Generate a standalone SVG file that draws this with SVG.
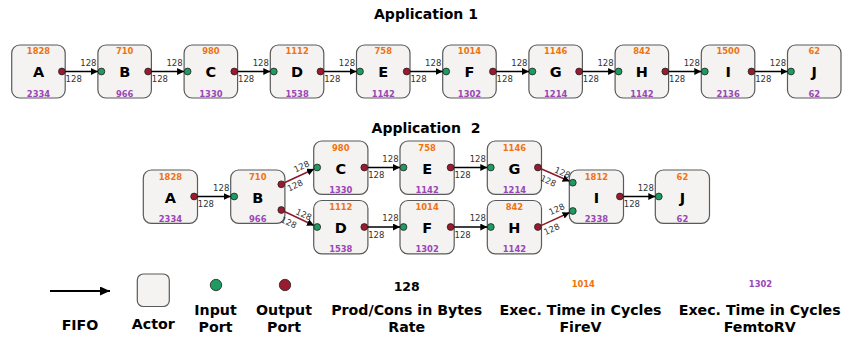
<svg xmlns="http://www.w3.org/2000/svg" width="843" height="339" viewBox="0 0 843 339">
<defs>
<marker id="ah" markerUnits="userSpaceOnUse" markerWidth="8" markerHeight="8" refX="7" refY="3.5" orient="auto"><path d="M0,0 L7,3.5 L0,7 z" fill="#000"/></marker>
<marker id="ahL" markerUnits="userSpaceOnUse" markerWidth="11" markerHeight="10" refX="10" refY="4.5" orient="auto"><path d="M0,0 L10,4.5 L0,9 z" fill="#000"/></marker>
</defs>
<style>
text{font-family:"DejaVu Sans","Liberation Sans",sans-serif}
.box{fill:#f4f3f1;stroke:#5a5a5a;stroke-width:1.2}
.in{fill:#1f9a60;stroke:#222;stroke-width:0.8}
.out{fill:#9b1b2e;stroke:#222;stroke-width:0.8}
.t{font-size:8.4px;font-weight:bold;fill:#f0720d;text-anchor:middle}
.b{font-size:8.4px;font-weight:bold;fill:#9a46b8;text-anchor:middle}
.n{font-size:14.5px;font-weight:bold;fill:#000;text-anchor:middle}
.r{font-size:8.5px;fill:#333}
.re{font-size:8.5px;fill:#333;text-anchor:end}
.rm{font-size:8.5px;fill:#333;text-anchor:middle}
.e{stroke:#000;stroke-width:1.5;fill:none;marker-end:url(#ah)}
.ed{stroke:#8b1a2a;stroke-width:1.5;fill:none;marker-end:url(#ah)}
.title{font-size:14px;font-weight:bold;fill:#000;text-anchor:middle}
.lg{font-size:14.2px;font-weight:bold;fill:#000;text-anchor:middle}
</style>

<text class="title" x="426" y="18.5">Application 1</text>
<text class="title" x="426" y="133" xml:space="preserve">Application  2</text>

<!-- Application 1 nodes -->
<g id="a1-A"><rect class="box" x="11.7" y="45" width="53.5" height="53" rx="8"/><text class="t" x="38.5" y="54">1828</text><text class="n" x="38.5" y="77.3">A</text><text class="b" x="38.5" y="96.5">2334</text><circle class="out" cx="61.9" cy="71.5" r="3.4"/></g>
<g id="a1-B"><rect class="box" x="97.9" y="45" width="53.5" height="53" rx="8"/><text class="t" x="124.7" y="54">710</text><text class="n" x="124.7" y="77.3">B</text><text class="b" x="124.7" y="96.5">966</text><circle class="in" cx="101.4" cy="71.5" r="3.4"/><circle class="out" cx="148.1" cy="71.5" r="3.4"/></g>
<g id="a1-C"><rect class="box" x="184.1" y="45" width="53.5" height="53" rx="8"/><text class="t" x="210.9" y="54">980</text><text class="n" x="210.9" y="77.3">C</text><text class="b" x="210.9" y="96.5">1330</text><circle class="in" cx="187.6" cy="71.5" r="3.4"/><circle class="out" cx="234.3" cy="71.5" r="3.4"/></g>
<g id="a1-D"><rect class="box" x="270.3" y="45" width="53.5" height="53" rx="8"/><text class="t" x="297.1" y="54">1112</text><text class="n" x="297.1" y="77.3">D</text><text class="b" x="297.1" y="96.5">1538</text><circle class="in" cx="273.8" cy="71.5" r="3.4"/><circle class="out" cx="320.5" cy="71.5" r="3.4"/></g>
<g id="a1-E"><rect class="box" x="356.5" y="45" width="53.5" height="53" rx="8"/><text class="t" x="383.3" y="54">758</text><text class="n" x="383.3" y="77.3">E</text><text class="b" x="383.3" y="96.5">1142</text><circle class="in" cx="360" cy="71.5" r="3.4"/><circle class="out" cx="406.7" cy="71.5" r="3.4"/></g>
<g id="a1-F"><rect class="box" x="442.7" y="45" width="53.5" height="53" rx="8"/><text class="t" x="469.5" y="54">1014</text><text class="n" x="469.5" y="77.3">F</text><text class="b" x="469.5" y="96.5">1302</text><circle class="in" cx="446.2" cy="71.5" r="3.4"/><circle class="out" cx="492.9" cy="71.5" r="3.4"/></g>
<g id="a1-G"><rect class="box" x="528.9" y="45" width="53.5" height="53" rx="8"/><text class="t" x="555.7" y="54">1146</text><text class="n" x="555.7" y="77.3">G</text><text class="b" x="555.7" y="96.5">1214</text><circle class="in" cx="532.4" cy="71.5" r="3.4"/><circle class="out" cx="579.1" cy="71.5" r="3.4"/></g>
<g id="a1-H"><rect class="box" x="615.1" y="45" width="53.5" height="53" rx="8"/><text class="t" x="641.9" y="54">842</text><text class="n" x="641.9" y="77.3">H</text><text class="b" x="641.9" y="96.5">1142</text><circle class="in" cx="618.6" cy="71.5" r="3.4"/><circle class="out" cx="665.3" cy="71.5" r="3.4"/></g>
<g id="a1-I"><rect class="box" x="701.3" y="45" width="53.5" height="53" rx="8"/><text class="t" x="728.1" y="54">1500</text><text class="n" x="728.1" y="77.3">I</text><text class="b" x="728.1" y="96.5">2136</text><circle class="in" cx="704.8" cy="71.5" r="3.4"/><circle class="out" cx="751.5" cy="71.5" r="3.4"/></g>
<g id="a1-J"><rect class="box" x="787.5" y="45" width="53.5" height="53" rx="8"/><text class="t" x="814.3" y="54">62</text><text class="n" x="814.3" y="77.3">J</text><text class="b" x="814.3" y="96.5">62</text><circle class="in" cx="791" cy="71.5" r="3.4"/></g>

<!-- Application 2 nodes -->
<g id="a2-A"><rect class="box" x="143.3" y="170" width="54.2" height="53.3" rx="8"/><text class="t" x="170.4" y="179.5">1828</text><text class="n" x="170.4" y="202.5">A</text><text class="b" x="170.4" y="221.7">2334</text><circle class="out" cx="194.1" cy="196.5" r="3.4"/></g>
<g id="a2-B"><rect class="box" x="230.7" y="170" width="54.2" height="53.3" rx="8"/><text class="t" x="257.8" y="179.5">710</text><text class="n" x="257.8" y="202.5">B</text><text class="b" x="257.8" y="221.7">966</text><circle class="in" cx="234.2" cy="196.5" r="3.4"/><circle class="out" cx="281.3" cy="184.3" r="3.4"/><circle class="out" cx="281.3" cy="210" r="3.4"/></g>
<g id="a2-C"><rect class="box" x="313.7" y="141" width="54.2" height="53.3" rx="8"/><text class="t" x="340.8" y="150.5">980</text><text class="n" x="340.8" y="173.5">C</text><text class="b" x="340.8" y="192.7">1330</text><circle class="in" cx="317.2" cy="167.5" r="3.4"/><circle class="out" cx="364.3" cy="167.5" r="3.4"/></g>
<g id="a2-D"><rect class="box" x="313.7" y="200.5" width="54.2" height="53.3" rx="8"/><text class="t" x="340.8" y="210">1112</text><text class="n" x="340.8" y="233">D</text><text class="b" x="340.8" y="252.2">1538</text><circle class="in" cx="317.2" cy="227" r="3.4"/><circle class="out" cx="364.3" cy="227" r="3.4"/></g>
<g id="a2-E"><rect class="box" x="400" y="141" width="54.2" height="53.3" rx="8"/><text class="t" x="427.1" y="150.5">758</text><text class="n" x="427.1" y="173.5">E</text><text class="b" x="427.1" y="192.7">1142</text><circle class="in" cx="403.5" cy="167.5" r="3.4"/><circle class="out" cx="450.6" cy="167.5" r="3.4"/></g>
<g id="a2-F"><rect class="box" x="400" y="200.5" width="54.2" height="53.3" rx="8"/><text class="t" x="427.1" y="210">1014</text><text class="n" x="427.1" y="233">F</text><text class="b" x="427.1" y="252.2">1302</text><circle class="in" cx="403.5" cy="227" r="3.4"/><circle class="out" cx="450.6" cy="227" r="3.4"/></g>
<g id="a2-G"><rect class="box" x="487.3" y="141" width="54.2" height="53.3" rx="8"/><text class="t" x="514.4" y="150.5">1146</text><text class="n" x="514.4" y="173.5">G</text><text class="b" x="514.4" y="192.7">1214</text><circle class="in" cx="490.8" cy="167.5" r="3.4"/><circle class="out" cx="537.9" cy="167.5" r="3.4"/></g>
<g id="a2-H"><rect class="box" x="487.3" y="200.5" width="54.2" height="53.3" rx="8"/><text class="t" x="514.4" y="210">842</text><text class="n" x="514.4" y="233">H</text><text class="b" x="514.4" y="252.2">1142</text><circle class="in" cx="490.8" cy="227" r="3.4"/><circle class="out" cx="537.9" cy="227" r="3.4"/></g>
<g id="a2-I"><rect class="box" x="569.3" y="170" width="54.2" height="53.3" rx="8"/><text class="t" x="596.4" y="179.5">1812</text><text class="n" x="596.4" y="202.5">I</text><text class="b" x="596.4" y="221.7">2338</text><circle class="in" cx="572.8" cy="182.7" r="3.4"/><circle class="in" cx="572.8" cy="211" r="3.4"/><circle class="out" cx="619.9" cy="196.5" r="3.4"/></g>
<g id="a2-J"><rect class="box" x="655.3" y="170" width="54.2" height="53.3" rx="8"/><text class="t" x="682.4" y="179.5">62</text><text class="n" x="682.4" y="202.5">J</text><text class="b" x="682.4" y="221.7">62</text><circle class="in" cx="658.8" cy="196.5" r="3.4"/></g>

<!-- connectors -->
<g id="connectors">
<line class="e" x1="65.3" y1="71.5" x2="97.9" y2="71.5"/><text class="re" x="96.5" y="65.5">128</text><text class="r" x="65.6" y="82">128</text>
<line class="e" x1="151.5" y1="71.5" x2="184.1" y2="71.5"/><text class="re" x="182.7" y="65.5">128</text><text class="r" x="151.8" y="82">128</text>
<line class="e" x1="237.7" y1="71.5" x2="270.3" y2="71.5"/><text class="re" x="268.9" y="65.5">128</text><text class="r" x="238" y="82">128</text>
<line class="e" x1="323.9" y1="71.5" x2="356.5" y2="71.5"/><text class="re" x="355.1" y="65.5">128</text><text class="r" x="324.2" y="82">128</text>
<line class="e" x1="410.1" y1="71.5" x2="442.7" y2="71.5"/><text class="re" x="441.3" y="65.5">128</text><text class="r" x="410.4" y="82">128</text>
<line class="e" x1="496.3" y1="71.5" x2="528.9" y2="71.5"/><text class="re" x="527.5" y="65.5">128</text><text class="r" x="496.6" y="82">128</text>
<line class="e" x1="582.5" y1="71.5" x2="615.1" y2="71.5"/><text class="re" x="613.7" y="65.5">128</text><text class="r" x="582.8" y="82">128</text>
<line class="e" x1="668.7" y1="71.5" x2="701.3" y2="71.5"/><text class="re" x="699.9" y="65.5">128</text><text class="r" x="669" y="82">128</text>
<line class="e" x1="754.9" y1="71.5" x2="787.5" y2="71.5"/><text class="re" x="786.1" y="65.5">128</text><text class="r" x="755.2" y="82">128</text>

<line class="e" x1="197.5" y1="196.5" x2="230.7" y2="196.5"/><text class="re" x="229.3" y="190.5">128</text><text class="r" x="197.8" y="207">128</text>
<line class="e" x1="367.9" y1="167.5" x2="400" y2="167.5"/><text class="re" x="398.6" y="161.5">128</text><text class="r" x="368.2" y="178">128</text>
<line class="e" x1="454.2" y1="167.5" x2="487.3" y2="167.5"/><text class="re" x="485.9" y="161.5">128</text><text class="r" x="454.5" y="178">128</text>
<line class="e" x1="367.9" y1="227" x2="400" y2="227"/><text class="re" x="398.6" y="221">128</text><text class="r" x="368.2" y="237.5">128</text>
<line class="e" x1="454.2" y1="227" x2="487.3" y2="227"/><text class="re" x="485.9" y="221">128</text><text class="r" x="454.5" y="237.5">128</text>
<line class="e" x1="623.5" y1="196.5" x2="655.3" y2="196.5"/><text class="re" x="653.9" y="190.5">128</text><text class="r" x="623.8" y="207">128</text>

<line class="ed" x1="284.4" y1="182.8" x2="314" y2="169"/>
<text class="rm" transform="translate(301.5,166.5) rotate(-25)" y="3">128</text>
<text class="rm" transform="translate(295,185.5) rotate(-25)" y="3">128</text>
<line class="ed" x1="284.4" y1="211.5" x2="314" y2="225.5"/>
<text class="rm" transform="translate(303.7,214.5) rotate(25)" y="3">128</text>
<text class="rm" transform="translate(288.7,222.5) rotate(25)" y="3">128</text>
<line class="ed" x1="541" y1="168.8" x2="569.6" y2="181.3"/>
<text class="rm" transform="translate(562.5,172.5) rotate(24)" y="3">128</text>
<text class="rm" transform="translate(548.3,180.8) rotate(24)" y="3">128</text>
<line class="ed" x1="541" y1="225.6" x2="569.6" y2="212.5"/>
<text class="rm" transform="translate(556.7,209.2) rotate(-25)" y="3">128</text>
<text class="rm" transform="translate(551.7,229.2) rotate(-25)" y="3">128</text>
</g>

<!-- legend -->
<g id="legend">
<line x1="50" y1="291" x2="110" y2="291" stroke="#000" stroke-width="2" marker-end="url(#ahL)"/>
<text class="lg" x="80" y="329.5">FIFO</text>
<rect class="box" x="137.3" y="274" width="32" height="32.5" rx="6"/>
<text class="lg" x="153.3" y="328.5">Actor</text>
<circle class="in" cx="216" cy="285" r="5.7"/>
<text class="lg" x="215.5" y="315">Input</text><text class="lg" x="215.5" y="331.5">Port</text>
<circle class="out" cx="285" cy="285" r="5.7"/>
<text class="lg" x="284" y="315">Output</text><text class="lg" x="284" y="331.5">Port</text>
<text class="lg" x="406.7" y="290.7" style="font-size:12.5px">128</text>
<text class="lg" x="406.7" y="315">Prod/Cons in Bytes</text><text class="lg" x="406.7" y="331.5">Rate</text>
<text class="t" x="583.3" y="286.7">1014</text>
<text class="lg" x="580.5" y="315">Exec. Time in Cycles</text><text class="lg" x="580.5" y="331.5">FireV</text>
<text class="b" x="760.5" y="286.7">1302</text>
<text class="lg" x="759.7" y="315">Exec. Time in Cycles</text><text class="lg" x="759.7" y="331.5">FemtoRV</text>
</g>
</svg>
